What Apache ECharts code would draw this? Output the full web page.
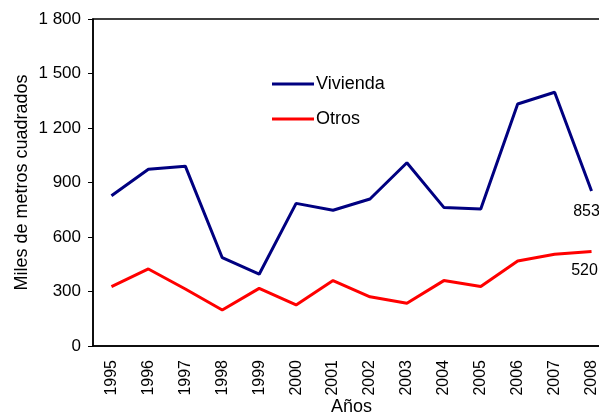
<!DOCTYPE html>
<html>
<head>
<meta charset="utf-8">
<script src="https://cdn.jsdelivr.net/npm/echarts@6/dist/echarts.min.js"></script>
<style>
  html, body { margin: 0; padding: 0; background: #fff; }
  #chart { width: 599px; height: 412px; }
</style>
</head>
<body>
<div id="chart"></div>
<script>
var years = ["1995","1996","1997","1998","1999","2000","2001","2002","2003","2004","2005","2006","2007","2008"];
var vivienda = [827, 973, 990, 486, 395, 785, 747, 809, 1009, 763, 754, 1332, 1397, 853];
var otros = [327, 424, 314, 198, 317, 226, 360, 271, 235, 360, 327, 468, 505, 520];
var yTicks = [0, 300, 600, 900, 1200, 1500, 1800];

var font = 'Liberation Sans, Arial, sans-serif';

var myChart = echarts.init(document.getElementById('chart'));
var option = {
	animation: false,
	backgroundColor: '#fff',
	textStyle: { fontFamily: font },
	grid: {
		left: 93, top: 19, right: -11, bottom: 66,
		show: true, borderColor: '#000', borderWidth: 1.5,
		containLabel: false,
		outerBoundsMode: 'none'
	},
	legend: {
		orient: 'vertical',
		left: 267, top: 70,
		icon: 'rect',
		itemWidth: 42, itemHeight: 3, itemGap: 17,
		textStyle: { fontFamily: font, fontSize: 18, color: '#000', padding: [0, 0, 0, -3] },
		data: ['Vivienda', 'Otros']
	},
	xAxis: {
		type: 'category',
		data: years,
		boundaryGap: true,
		name: 'Años',
		nameLocation: 'middle',
		nameGap: 52,
		nameMoveOverlap: false,
		nameTextStyle: { fontFamily: font, fontSize: 18, color: '#000' },
		axisLine: { lineStyle: { color: '#000', width: 1.5 } },
		axisTick: { show: false },
		axisLabel: { rotate: 90, margin: 14, fontFamily: font, fontSize: 16, color: '#000' },
		splitLine: { show: false }
	},
	yAxis: {
		type: 'value',
		min: yTicks[0], max: yTicks[yTicks.length - 1], interval: 300,
		name: 'Miles de metros cuadrados',
		nameLocation: 'middle',
		nameGap: 62,
		nameMoveOverlap: false,
		nameTextStyle: { fontFamily: font, fontSize: 18, color: '#000' },
		axisLine: { show: true, lineStyle: { color: '#000', width: 1.5 } },
		axisTick: { show: true, inside: false, length: 5, lineStyle: { color: '#000' } },
		axisLabel: {
			margin: 12, fontFamily: font, fontSize: 17, color: '#000',
			formatter: function (v) { return v >= 1000 ? Math.floor(v / 1000) + ' ' + String(v % 1000).padStart(3, '0') : String(v); }
		},
		splitLine: { show: false }
	},
	series: [
		{
			name: 'Vivienda',
			type: 'line',
			data: vivienda,
			symbol: 'none',
			lineStyle: { color: '#000080', width: 3 },
			itemStyle: { color: '#000080' },
			endLabel: { show: true, distance: 0, align: 'center', verticalAlign: 'top', offset: [-5, 13], fontFamily: font, fontSize: 16, color: '#000' }
		},
		{
			name: 'Otros',
			type: 'line',
			data: otros,
			symbol: 'none',
			lineStyle: { color: '#ff0000', width: 3 },
			itemStyle: { color: '#ff0000' },
			endLabel: { show: true, distance: 0, align: 'center', verticalAlign: 'top', offset: [-7, 11], fontFamily: font, fontSize: 16, color: '#000' }
		}
	]
};
myChart.setOption(option);
</script>
</body>
</html>
